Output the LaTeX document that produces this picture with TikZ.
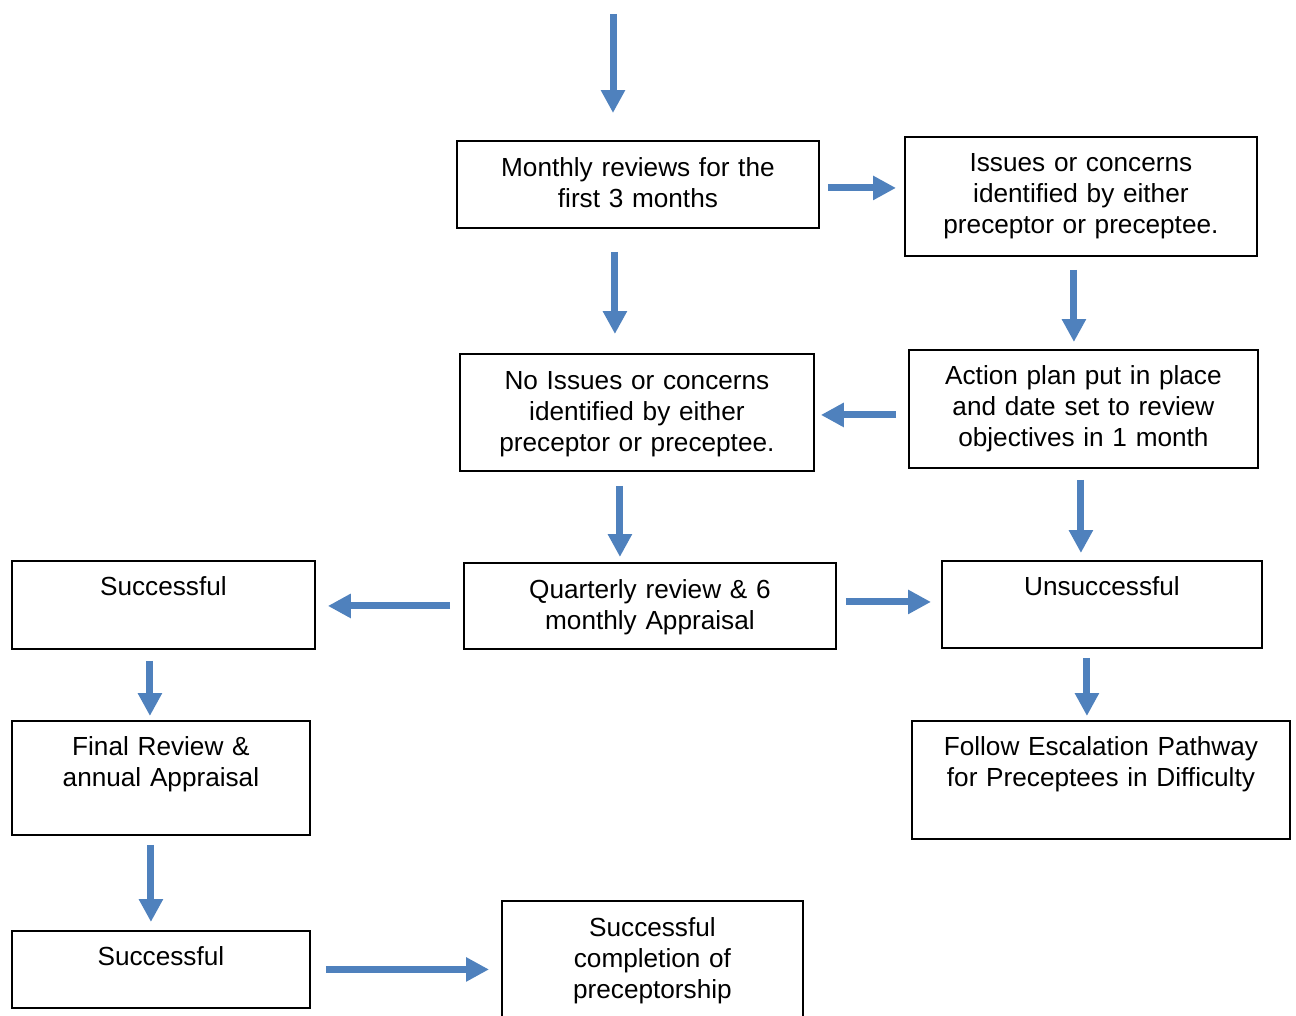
\documentclass[tikz,border=0pt]{standalone}
\usepackage{fontspec}
\setmainfont{Liberation Sans}
\usetikzlibrary{arrows.meta}

\definecolor{arrowblue}{RGB}{79,129,189}
\newcommand{\boxfont}{\fontsize{14.9pt}{17.6pt}\selectfont}

\tikzset{
  box/.style={draw, line width=1.1pt, inner xsep=0pt, inner ysep=0pt, align=center,
    anchor=north west, font=\boxfont},
  flow/.style={draw=arrowblue, line width=0.14cm, -{Triangle[length=0.46cm,width=0.46cm]}}
}

\begin{document}
\begin{tikzpicture}[x=0.02cm,y=-0.02cm]
  \clip (0,0) rectangle (1296,1016);
  % boxes, placed by their top left corner
  \node[box, text width=7.24cm, text height=0.72cm, text depth=1.02cm] (monthly) at (456,140) {Monthly reviews for the\\first 3 months};
  \node[box, text width=7.04cm, text height=0.70cm, text depth=1.68cm] (issues) at (904,136) {Issues or concerns\\identified by either\\preceptor or preceptee.};
  \node[box, text width=7.08cm, text height=0.72cm, text depth=1.62cm] (noissues) at (459,353) {No Issues or concerns\\identified by either\\preceptor or preceptee.};
  \node[box, text width=6.98cm, text height=0.70cm, text depth=1.66cm] (action) at (908,349) {Action plan put in place\\and date set to review\\objectives in 1 month};
  \node[box, text width=6.06cm, text height=0.70cm, text depth=1.06cm] (succA) at (11,560) {Successful};
  \node[box, text width=7.44cm, text height=0.72cm, text depth=1.00cm] (quarterly) at (463,562) {Quarterly review \& 6\\monthly Appraisal};
  \node[box, text width=6.40cm, text height=0.70cm, text depth=1.04cm] (unsucc) at (941,560) {Unsuccessful};
  \node[box, text width=5.96cm, text height=0.70cm, text depth=1.58cm] (final) at (11,720) {Final Review \&\\annual Appraisal};
  \node[box, text width=7.56cm, text height=0.70cm, text depth=1.66cm] (follow) at (911,720) {Follow Escalation Pathway\\for Preceptees in Difficulty};
  \node[box, text width=5.96cm, text height=0.70cm, text depth=0.84cm] (succB) at (11,930) {Successful};
  \node[box, text width=6.02cm, text height=0.72cm, text depth=2.20cm] (complete) at (501,900) {Successful\\completion of\\preceptorship};

  % arrows
  \coordinate (entry) at (613,14);
  \draw[flow, shorten >=0.54cm] (entry) -- (entry |- monthly.north);
  \foreach \from/\to/\dx/\s/\e in {monthly/noissues/-0.46/0.46/0.38,issues/action/-0.14/0.26/0.14,noissues/quarterly/-0.34/0.28/0.10,action/unsucc/-0.05/0.22/0.14,succA/final/-0.27/0.22/0.08,unsucc/follow/-0.30/0.18/0.08,final/succB/-0.20/0.18/0.16}
    \draw[flow, shorten <=\s cm, shorten >=\e cm] ([xshift=\dx cm]\from.south) -- ([xshift=\dx cm]\from.south |- \to.north);
  \draw[flow, shorten <=0.16cm, shorten >=0.16cm] ([yshift=-0.07cm]monthly.east) -- ([yshift=-0.07cm]monthly.east -| issues.west);
  \draw[flow, shorten <=0.24cm, shorten >=0.12cm] ([yshift=-0.12cm]action.west) -- ([yshift=-0.12cm]action.west -| noissues.east);
  \draw[flow, shorten <=0.26cm, shorten >=0.24cm] (quarterly.west) -- (quarterly.west -| succA.east);
  \draw[flow, shorten <=0.18cm, shorten >=0.20cm] ([yshift=0.08cm]quarterly.east) -- ([yshift=0.08cm]quarterly.east -| unsucc.west);
  \draw[flow, shorten <=0.30cm, shorten >=0.24cm] (succB.east) -- (succB.east -| complete.west);
\end{tikzpicture}
\end{document}
